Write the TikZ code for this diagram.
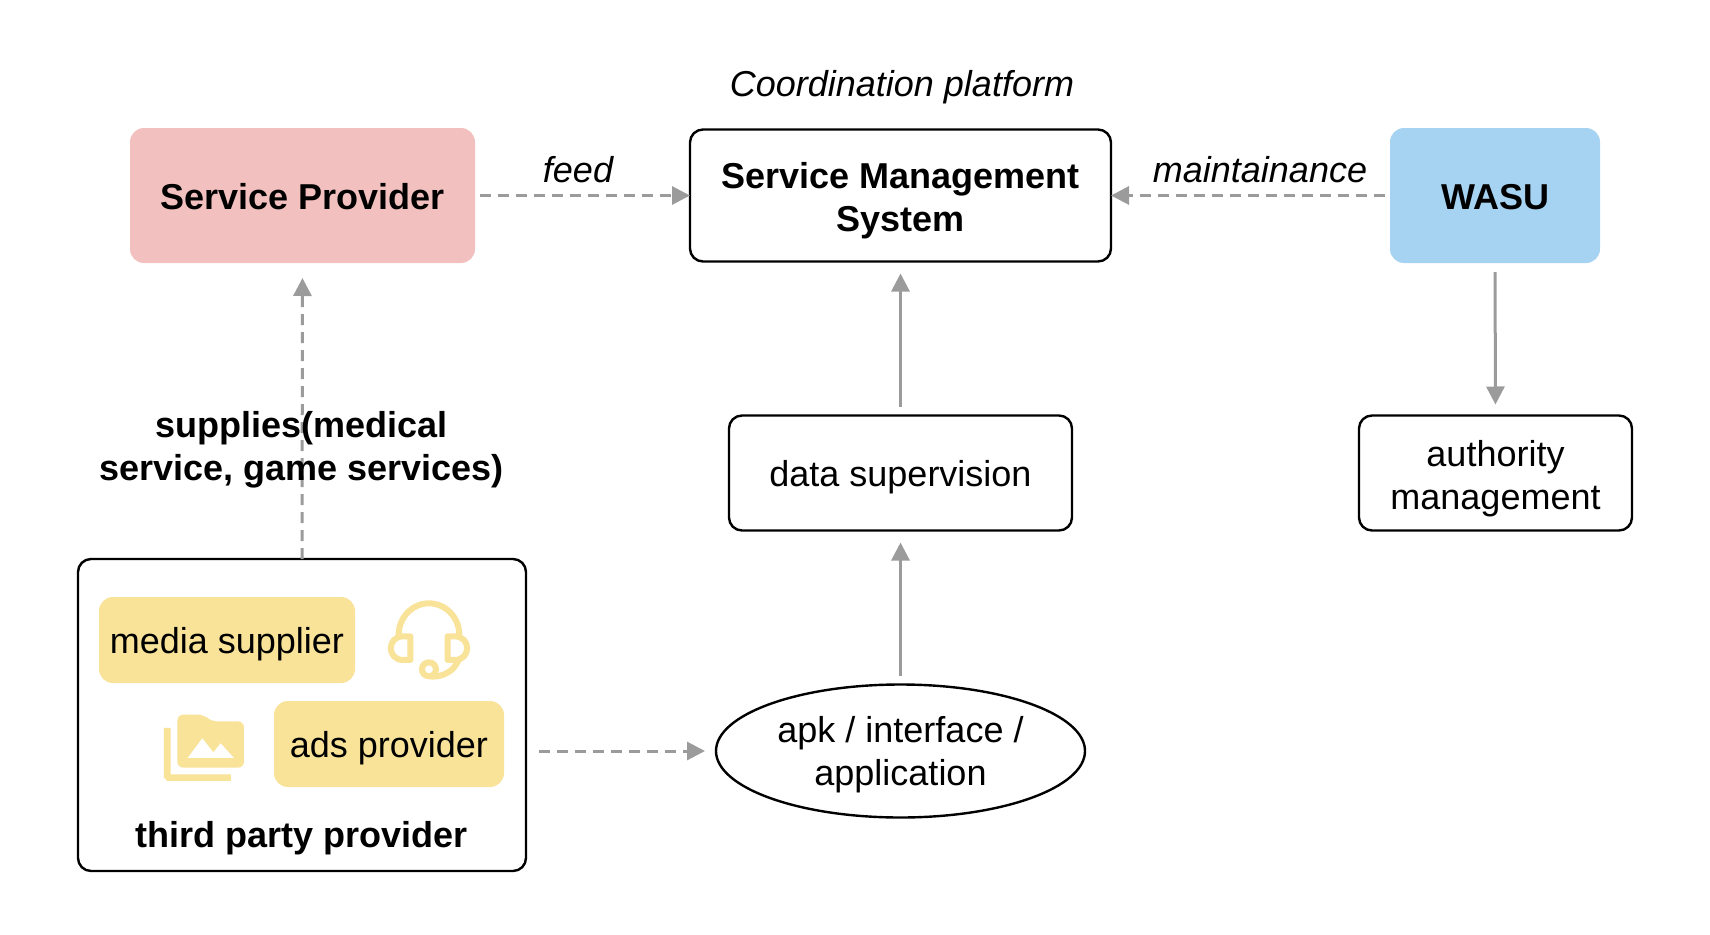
\documentclass[tikz,border=0pt]{standalone}
\usepackage{fontspec}
\setmainfont{Liberation Sans}
\usetikzlibrary{arrows.meta,shapes.geometric}
\definecolor{pinkfill}{HTML}{F2C1BF}
\definecolor{bluefill}{HTML}{A6D3F2}
\definecolor{yellowfill}{HTML}{F8E399}
\definecolor{linkgrey}{HTML}{9B9B9B}
\tikzset{
  tb/.style={text height=40pt+#1pt, text depth=40pt-#1pt},
  basefont/.style={font=\fontsize{36}{43}\selectfont, align=center, text=black, inner sep=0pt, outer sep=0pt, tb=13.5},
  bold/.style={font=\fontsize{36}{43}\selectfont\bfseries},
  ital/.style={font=\fontsize{36}{43}\selectfont\itshape},
  box/.style={basefont, draw=black, line width=2.4pt, rounded corners=13pt, fill=white},
  solidbox/.style={basefont, rounded corners=14pt},
  lbl/.style={basefont},
  link/.style={draw=linkgrey, line width=3pt, -{Triangle[length=18pt,width=18pt,fill=linkgrey]}},
  dashlink/.style={link, dash pattern=on 11pt off 7pt},
}
\begin{document}
\begin{tikzpicture}[x=1pt,y=-1pt]
\useasboundingbox (0,0) rectangle (1710,934);
\node[solidbox, bold, fill=pinkfill, minimum width=345pt, minimum height=135pt] (sp) at (302.5,195.5) {Service Provider};
\node[box, bold, tb=35.5, minimum width=421pt, minimum height=132pt] (sms) at (900.5,195.5) {Service Management\\System};
\node[solidbox, bold, fill=bluefill, minimum width=210pt, minimum height=135pt] (wasu) at (1495,195.5) {WASU};
\node[box, minimum width=343pt, minimum height=115pt] (data) at (900.5,473) {data supervision};
\node[box, tb=36.5, minimum width=273pt, minimum height=115pt] (auth) at (1495.5,473) {authority\\management};
\node[basefont, tb=34.5, draw=black, line width=2.4pt, fill=white, ellipse, minimum width=369pt, minimum height=133pt] (apk) at (900.5,751) {apk / interface /\\application};
\node[box, minimum width=448pt, minimum height=312pt] (third) at (302,715) {};
\node[solidbox, fill=yellowfill, minimum width=256pt, minimum height=86pt] (media) at (227,640) {media supplier};
\node[solidbox, fill=yellowfill, minimum width=230pt, minimum height=86pt] (ads) at (389,744) {ads provider};
\node[lbl, bold] (thirdlbl) at (301.5,833.5) {third party provider};
\node[lbl, ital] (coord) at (902,83) {Coordination platform};
% connectors
\path[dashlink, shorten <=5pt] (sp.east) -- (sms.west);
\path[dashlink, shorten <=5pt] (wasu.west) -- (sms.east);
\path[dashlink, shorten >=15pt] (third.north) -- (sp.south);
\path[link, shorten <=9pt, shorten >=12pt] (data.north) -- (sms.south);
\path[link, shorten <=9pt, shorten >=12pt] (apk.north) -- (data.south);
\path[link, shorten <=9pt, shorten >=11pt] (wasu.south) -- (auth.north);
\coordinate (thirdout) at (third.east |- apk.west);
\path[dashlink, shorten <=13pt, shorten >=11pt] (thirdout) -- (apk.west);
% labels
\node[lbl, ital] (feed) at (578,168.5) {feed};
\node[lbl, ital] (maint) at (1260,168.5) {maintainance};
\node[lbl, bold, tb=34.5] (supplies) at (301.5,446) {supplies(medical\\service, game services)};
% icons
\begin{scope}[shift={(70,550)}, x=0.3333pt, y=-0.3333pt]
  % headset
  \draw[yellowfill, line width=6pt, line cap=round] (986,255) arc[start angle=180, end angle=360, x radius=91, y radius=95];
  \draw[yellowfill, line width=6pt, line join=round, fill=white] (1021,259) -- (1021,330) -- (1000,330) .. controls (950,330) and (950,259) .. (1000,259) -- cycle;
  \draw[yellowfill, line width=6pt, line join=round, fill=white] (1133,259) -- (1133,330) -- (1154,330) .. controls (1204,330) and (1204,259) .. (1154,259) -- cycle;
  \draw[yellowfill, line width=6pt] (1077,358) circle[radius=21];
  \draw[yellowfill, line width=6pt, line cap=round] (1085,380) .. controls (1120,380) and (1150,365) .. (1165,332);
  % folders
  \fill[yellowfill] (282,534) -- (302,534) -- (302,673) -- (483,673) -- (483,693) -- (292,693) -- (282,683) -- cycle;
  \fill[yellowfill, rounded corners=6pt] (322,653) -- (322,494) -- (402,494) -- (422,514) -- (522,514) -- (522,653) -- cycle;
  \fill[white] (353,624) -- (397,565) -- (430,607) -- (452,580) -- (492,624) -- cycle;
\end{scope}
\end{tikzpicture}
\end{document}
